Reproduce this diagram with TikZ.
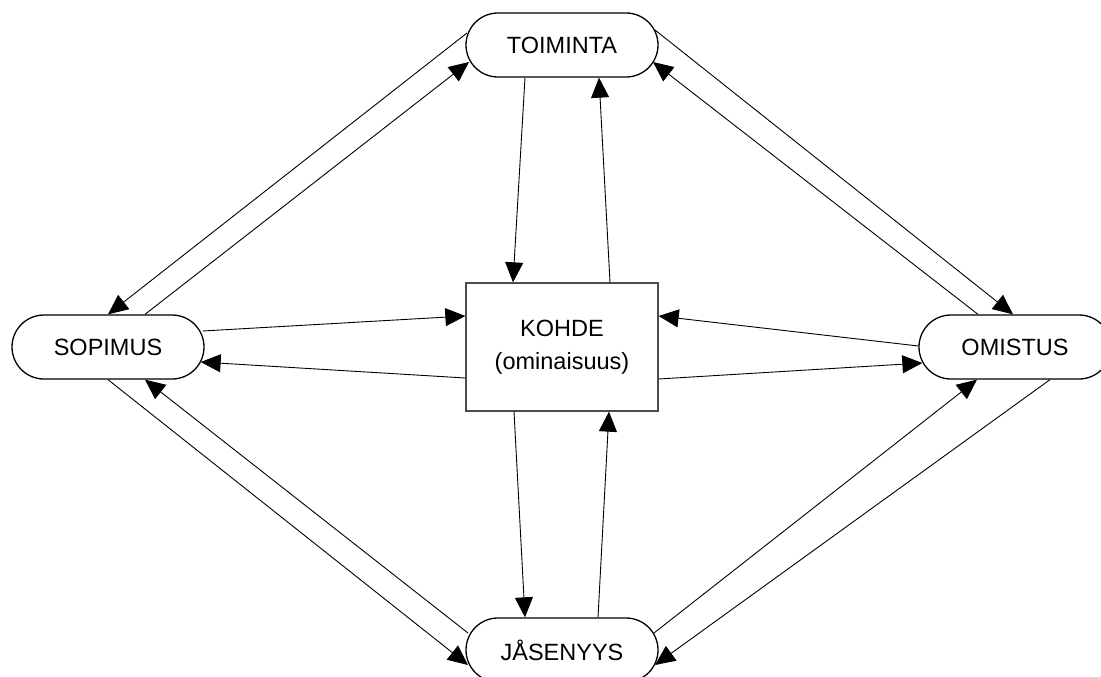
\documentclass[tikz,border=0pt]{standalone}
\usepackage{fontspec}
\setmainfont{Liberation Sans}
\usetikzlibrary{arrows.meta,calc}
\begin{document}
\begin{tikzpicture}[x=1pt,y=-1pt,
  capsule/.style={draw=black,line width=1.3pt,rounded corners=32pt,
    minimum width=192pt,minimum height=64pt,inner sep=0pt,
    font=\fontsize{23.5}{28}\selectfont},
  objbox/.style={draw=black!70,line width=1.3pt,minimum width=192pt,
    minimum height=128pt,inner sep=0pt,align=center,
    font=\fontsize{23.5}{33}\selectfont},
  link/.style={line width=0.9pt,-{Triangle[length=20pt,width=18pt]}}]
\useasboundingbox (0,0) rectangle (1101,677);

% the five concepts
\node[capsule] (toim) at (562,45)  {TOIMINTA};
\node[capsule] (sop)  at (108,347) {SOPIMUS};
\node[capsule] (omis) at (1015,347) {OMISTUS};
\node[capsule] (jas)  at (562,650) {JÅSENYYS};
\node[objbox]  (koh)  at (562,347) {KOHDE\\(ominaisuus)};

% links between the centre box and the four concepts
\draw[link] ($(toim.south)+(-37,0)$) -- ($(koh.north)+(-49,0)$);
\draw[link] ($(koh.north)+(48,0)$)   -- ($(toim.south)+(37,0)$);
\draw[link] ($(koh.south)+(-48,0)$)  -- ($(jas.north)+(-37,0)$);
\draw[link] ($(jas.north)+(36,0)$)   -- ($(koh.south)+(47,0)$);
\draw[link] ($(sop.east)+(-2,-16)$)  -- ($(koh.west)+(0,-31)$);
\draw[link] ($(koh.west)+(0,31)$)    -- ($(sop.east)+(-4,15)$);
\draw[link] ($(omis.west)+(0,-1)$)   -- ($(koh.east)+(0,-31)$);
\draw[link] ($(koh.east)+(0,32)$)    -- ($(omis.west)+(4,16)$);

% links around the outer ring
\draw[link] ($(toim.center)+(-95,-12)$) -- (sop.north);
\draw[link] ($(sop.north)+(37,0)$)      -- ($(toim.center)+(-93,17)$);
\draw[link] ($(toim.center)+(93,-15)$)  -- ($(omis.north)+(-2,0)$);
\draw[link] ($(omis.north)+(-37,0)$)    -- ($(toim.center)+(91,17)$);
\draw[link] (sop.south)                 -- ($(jas.center)+(-94,15)$);
\draw[link] ($(jas.center)+(-94,-17)$)  -- ($(sop.south)+(37,0)$);
\draw[link] ($(jas.center)+(92,-17)$)   -- ($(omis.south)+(-38,0)$);
\draw[link] ($(omis.south)+(35,0)$)     -- ($(jas.center)+(93,15)$);
\end{tikzpicture}
\end{document}
